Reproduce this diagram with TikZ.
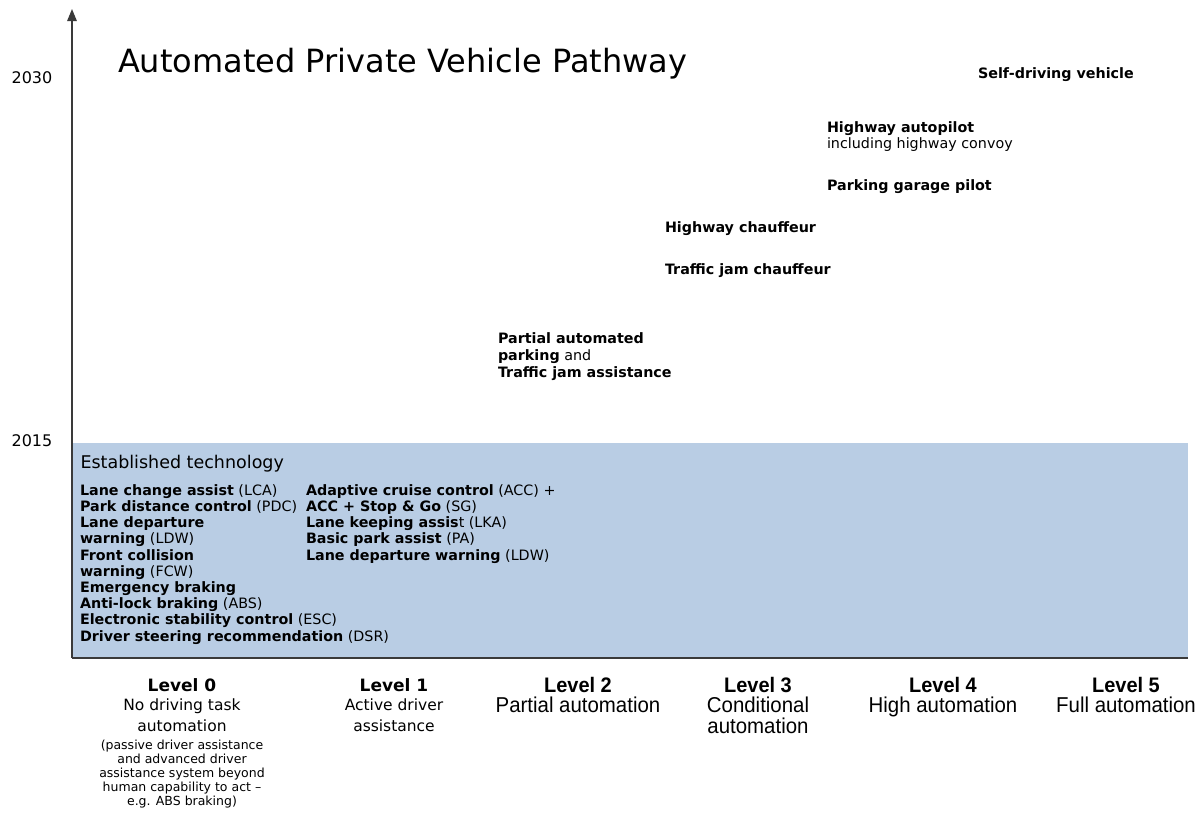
\documentclass[tikz,border=0pt]{standalone}
\usepackage{fontspec}
\setmainfont{DejaVu Sans}
\newfontfamily\narrowfont{Liberation Sans}[FakeStretch=0.95]
\usetikzlibrary{arrows.meta}
\definecolor{techblue}{HTML}{B9CDE4}
\definecolor{axisgray}{HTML}{3A3A3A}
\begin{document}
\begin{tikzpicture}[x=1pt,y=-1pt,
  every node/.style={inner sep=0pt, outer sep=0pt, text=black},
  axisline/.style={draw=axisgray, line width=1.4pt},
  yearlbl/.style={font=\fontsize{16}{19}\selectfont, anchor=center},
  ttl/.style={font=\fontsize{32}{36}\selectfont, anchor=base west},
  feat/.style={font=\fontsize{14.3}{16.2}\selectfont, anchor=base west},
  featblock/.style={font=\fontsize{14.3}{16.2}\selectfont, align=left, anchor=north west},
  esttitle/.style={font=\fontsize{17.5}{20}\selectfont, anchor=base west},
  lvlhead/.style={font=\bfseries\fontsize{17}{20}\selectfont, anchor=base},
  lvldesc/.style={font=\fontsize{15.5}{20.5}\selectfont, align=center, anchor=north},
  lvlnote/.style={font=\fontsize{12.5}{13.9}\selectfont, align=center, anchor=north},
  nlvlhead/.style={font=\narrowfont\bfseries\fontsize{21}{22}\selectfont, anchor=base},
  nlvldesc/.style={font=\narrowfont\fontsize{21.5}{20.5}\selectfont, align=center, anchor=north}
]
\useasboundingbox (0,0) rectangle (1204,812);
% established technology band
\fill[techblue] (72,443) rectangle (1188,658);
% axes
\coordinate (origin) at (72,658);
\coordinate (xend) at (1188,658);
\coordinate (ytip) at (72,9);
\draw[axisline] (xend) -- (origin);
\draw[axisline, -{Triangle[length=12pt,width=9.5pt]}] (origin) -- (ytip);
% years
\node[yearlbl] (y2030) at (32,78) {2030};
\node[yearlbl] (y2015) at (32,441) {2015};
% title
\node[ttl] (title) at (118,72) {Automated Private Vehicle Pathway};
% future technologies
\node[feat] (selfdrive) at (978,78.5) {\textbf{Self-driving vehicle}};
\node[featblock] (hwpilot) at (827,121.4) {\textbf{Highway autopilot}\\including highway convoy};
\node[feat] (garage) at (827,190) {\textbf{Parking garage pilot}};
\node[feat] (hwchauf) at (665,232) {\textbf{Highway chauffeur}};
\node[feat] (tjchauf) at (665,274) {\textbf{Traffic jam chauffeur}};
\node[featblock, font=\fontsize{14.3}{17}\selectfont] (partial) at (498,332.4) {\textbf{Partial automated}\\\textbf{parking} and\\\textbf{Traffic jam assistance}};
% established
\node[esttitle] (est) at (80.5,468.5) {Established technology};
\node[featblock] (estleft) at (80,484.4) {%
\textbf{Lane change assist} (LCA)\\
\textbf{Park distance control} (PDC)\\
\textbf{Lane departure}\\
\textbf{warning} (LDW)\\
\textbf{Front collision}\\
\textbf{warning} (FCW)\\
\textbf{Emergency braking}\\
\textbf{Anti-lock braking} (ABS)\\
\textbf{Electronic stability control} (ESC)\\
\textbf{Driver steering recommendation} (DSR)};
\node[featblock] (estright) at (306,484.4) {%
\textbf{Adaptive cruise control} (ACC) +\\
\textbf{ACC + Stop \& Go} (SG)\\
\textbf{Lane keeping assis}t (LKA)\\
\textbf{Basic park assist} (PA)\\
\textbf{Lane departure warning} (LDW)};
% levels
\node[lvlhead] (l0) at (182,691) {Level 0};
\node[lvldesc] (l0d) at (182,699) {No driving task\\automation};
\node[lvlnote] (l0n) at (182,740) {(passive driver assistance\\and advanced driver\\assistance system beyond\\human capability to act --\\e.g. ABS braking)};
\node[lvlhead] (l1) at (394,691) {Level 1};
\node[lvldesc] (l1d) at (394,699) {Active driver\\assistance};
\node[nlvlhead] (l2) at (578,692) {Level 2};
\node[nlvldesc] (l2d) at (578,697) {Partial automation};
\node[nlvlhead] (l3) at (758,692) {Level 3};
\node[nlvldesc] (l3d) at (758,697) {Conditional\\automation};
\node[nlvlhead] (l4) at (943,692) {Level 4};
\node[nlvldesc] (l4d) at (943,697) {High automation};
\node[nlvlhead] (l5) at (1126,692) {Level 5};
\node[nlvldesc] (l5d) at (1126,697) {Full automation};
\end{tikzpicture}
\end{document}
